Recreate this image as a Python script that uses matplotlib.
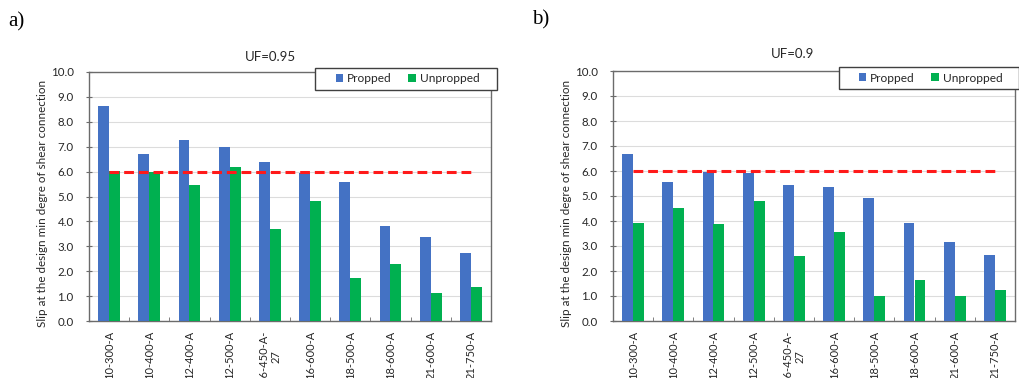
import matplotlib
matplotlib.use("Agg")
import matplotlib.pyplot as plt
from matplotlib.patches import Rectangle
import numpy as np

categories = ["10-300-A", "10-400-A", "12-400-A", "12-500-A", "16-450-A-\n27",
              "16-600-A", "18-500-A", "18-600-A", "21-600-A", "21-750-A"]

propped_a = [8.63, 6.72, 7.25, 6.97, 6.39, 5.95, 5.58, 3.81, 3.39, 2.75]
unpropped_a = [6.02, 5.99, 5.47, 6.17, 3.69, 4.81, 1.73, 2.28, 1.14, 1.35]
propped_b = [6.70, 5.57, 5.97, 5.92, 5.45, 5.37, 4.91, 3.91, 3.15, 2.66]
unpropped_b = [3.91, 4.51, 3.90, 4.79, 2.62, 3.55, 1.00, 1.64, 1.02, 1.24]
limit_value = 6.0

titles = ["UF=0.95", "UF=0.9"]
panel_labels = ["a)", "b)"]
ylabel = "Slip at the design min degre of shear connection"
legend_labels = ["Propped", "Unpropped"]
yticks = np.arange(0, 10.01, 1.0)

W, H = 1020, 378
fig = plt.figure(figsize=(W / 100, H / 100), dpi=100)
plt.rcParams['font.family'] = ['Lato', 'DejaVu Sans']

BLUE = "#4472C4"
GREEN = "#00B050"
RED = "#FF1A1A"
SPINE = "#6b6b6b"
TXT = "#262626"

panels = [
    dict(left=89, right=491, top=72, bottom=321, prop=propped_a, unprop=unpropped_a,
         title_xy=(270, 57), lab_xy=(16, 22), ylab_x=43, leg=(315, 497, 68, 90)),
    dict(left=613, right=1015, top=71, bottom=321, prop=propped_b, unprop=unpropped_b,
         title_xy=(793, 54), lab_xy=(541, 20), ylab_x=567, leg=(839, 1019, 67, 89)),
]

for i, p in enumerate(panels):
    ax = fig.add_axes([p["left"] / W, 1 - p["bottom"] / H,
                       (p["right"] - p["left"]) / W, (p["bottom"] - p["top"]) / H])
    x = np.arange(len(categories))
    bw = 0.27
    b1 = ax.bar(x - bw / 2, p["prop"], bw, color=BLUE, zorder=3, label=legend_labels[0])
    b2 = ax.bar(x + bw / 2, p["unprop"], bw, color=GREEN, zorder=3, label=legend_labels[1])
    ax.plot(x, [limit_value] * len(x), color=RED, lw=2.2, ls=(0, (3.2, 1.6)), zorder=4)
    ax.set_xlim(-0.5, len(categories) - 0.5)
    ax.set_ylim(0, 10)
    ax.set_yticks(yticks)
    ax.set_yticklabels([f"{v:.1f}" for v in yticks], fontsize=8.3, color=TXT)
    ax.yaxis.grid(True, color="#dcdcdc", lw=0.8, zorder=0)
    ax.set_axisbelow(True)
    ax.set_xticks(x)
    ax.set_xticklabels(categories, rotation=90, fontsize=8, color=TXT,
                       va="top", ha="center", multialignment="center")
    ax.tick_params(axis="x", length=0, pad=7)
    ax.set_xticks(np.arange(0.5, len(categories) - 0.5, 1.0), minor=True)
    ax.tick_params(axis="x", which="minor", direction="in", length=3, color=SPINE)
    ax.tick_params(axis="y", direction="inout", length=4, color=SPINE, pad=9)
    for s in ax.spines.values():
        s.set_color(SPINE)
        s.set_linewidth(1.0)
    fig.text(p["ylab_x"] / W, 1 - 203 / H, ylabel, rotation=90, ha="center", va="center",
             fontsize=8.4, color=TXT)
    fig.text(p["title_xy"][0] / W, 1 - p["title_xy"][1] / H, titles[i], ha="center",
             va="center", fontsize=9.5, color=TXT)
    fig.text(p["lab_xy"][0] / W, 1 - p["lab_xy"][1] / H, panel_labels[i], ha="center",
             va="center", fontsize=15, family="Liberation Serif")
    lx0, lx1, ly0, ly1 = p["leg"]
    frame = Rectangle((lx0 / W, 1 - ly1 / H), (lx1 - lx0) / W, (ly1 - ly0) / H,
                      transform=fig.transFigure, facecolor="white", edgecolor="#404040",
                      lw=1.0, zorder=4)
    fig.add_artist(frame)
    leg = fig.legend(handles=[b1, b2], labels=legend_labels, loc="center",
                     bbox_to_anchor=((lx0 + lx1) / 2 / W + 1.5 / W, 1 - (ly0 + ly1) / 2 / H),
                     ncol=2, fontsize=8.6, frameon=False,
                     handlelength=0.6, handleheight=0.6,
                     handletextpad=0.35, columnspacing=1.4, borderpad=0,
                     borderaxespad=0)
    leg.set_zorder(6)
    for t in leg.get_texts():
        t.set_color(TXT)

fig.savefig("out.png", dpi=100)
